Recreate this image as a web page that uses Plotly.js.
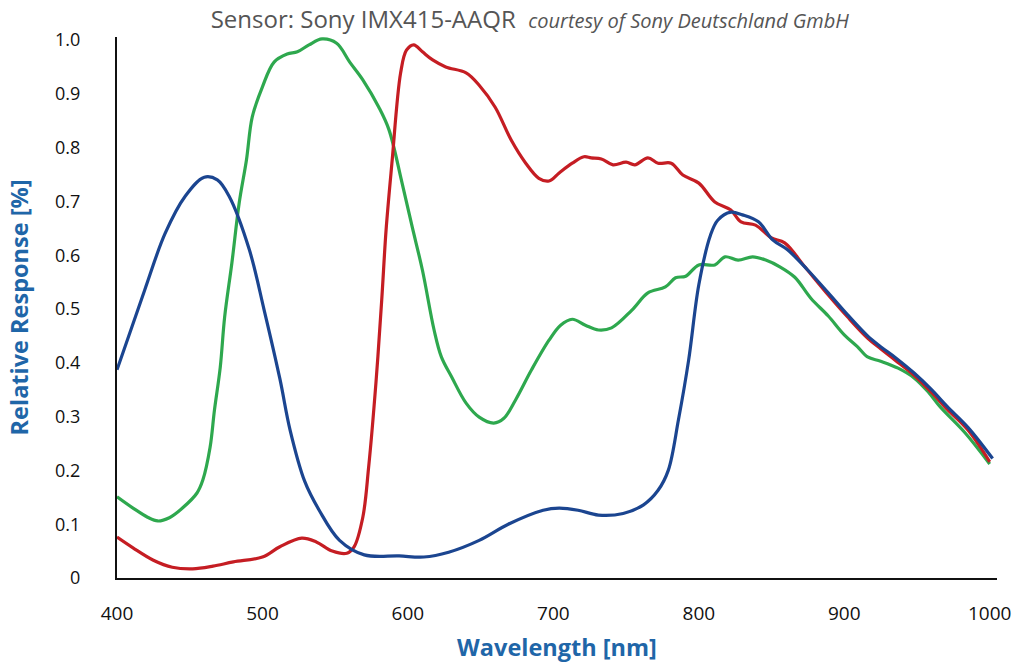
<!DOCTYPE html>
<html><head><meta charset="utf-8">
<script src="https://cdn.plot.ly/plotly-3.0.1.min.js"></script>
<style>html,body{margin:0;padding:0;background:#fff}#chart{width:1013px;height:670px}</style>
</head><body><div id="chart"></div>
<script>
// Wavelength (nm) and relative response values
const blueNm  = [400,419,433,447,460,469,477,491,501,512,519,529,539,553,570,594,611,628,649,669,693,704,717,731,748,762,772,779,786,793,800,808,813,822,830,841,851,861,875,889,902,916,925,935,948,960,971,985,1002];
const blueVal = [0.387,0.535,0.64,0.71,0.745,0.74,0.71,0.61,0.50,0.37,0.275,0.18,0.126,0.07,0.043,0.041,0.039,0.048,0.07,0.10,0.126,0.13,0.126,0.117,0.12,0.136,0.163,0.2,0.294,0.405,0.545,0.637,0.665,0.68,0.675,0.662,0.628,0.61,0.572,0.53,0.49,0.45,0.43,0.41,0.381,0.35,0.318,0.28,0.222];

const redNm  = [400,411,425,438,452,466,480,500,512,527,537,548,558,563,569,573,578,582,585,589,595,599,604,610,617,626,640,649,660,671,681,690,697,704,713,721,726,733,741,750,756,765,772,781,789,800,811,822,829,839,850,859,873,889,902,916,925,935,948,960,971,985,1000];
const redVal = [0.076,0.056,0.033,0.020,0.017,0.022,0.030,0.039,0.058,0.074,0.067,0.050,0.046,0.058,0.113,0.206,0.362,0.517,0.647,0.771,0.939,0.981,0.991,0.978,0.963,0.950,0.939,0.916,0.875,0.814,0.771,0.743,0.738,0.753,0.771,0.783,0.781,0.779,0.768,0.773,0.768,0.781,0.771,0.771,0.749,0.734,0.699,0.684,0.662,0.656,0.632,0.623,0.578,0.526,0.486,0.446,0.426,0.405,0.377,0.345,0.313,0.275,0.216];

const greenNm  = [400,411,421,428,436,445,455,459,464,467,471,474,479,484,489,493,500,508,517,524,532,541,551,560,569,580,587,596,603,610,618,623,630,640,649,659,666,674,685,697,705,713,722,731,740,754,765,777,784,791,800,811,818,827,837,846,856,866,877,889,900,909,916,925,937,948,958,966,983,1000];
const greenVal = [0.151,0.130,0.113,0.106,0.112,0.130,0.158,0.182,0.243,0.312,0.392,0.485,0.586,0.697,0.777,0.857,0.913,0.959,0.974,0.978,0.991,1.002,0.994,0.959,0.926,0.875,0.833,0.734,0.652,0.572,0.461,0.411,0.374,0.325,0.299,0.288,0.297,0.331,0.387,0.442,0.470,0.481,0.470,0.461,0.465,0.498,0.530,0.541,0.558,0.561,0.582,0.582,0.597,0.591,0.597,0.591,0.578,0.559,0.520,0.487,0.452,0.43,0.411,0.403,0.390,0.372,0.345,0.318,0.270,0.212];

const yTickVals = [0,0.1,0.2,0.3,0.4,0.5,0.6,0.7,0.8,0.9,1.0];
const yTickText = ["0","0.1","0.2","0.3","0.4","0.5","0.6","0.7","0.8","0.9","1.0"];
const xTickVals = [400,500,600,700,800,900,1000];

const FONT = '"Open Sans", "DejaVu Sans", sans-serif';
function tr(x, y, c) {
  return {x: x, y: y, type: 'scatter', mode: 'lines',
    line: {color: c, width: 3.2, shape: 'spline', smoothing: 1},
    hoverinfo: 'skip', showlegend: false};
}
const data = [
  tr(greenNm, greenVal, '#2ea84e'),
  tr(redNm, redVal, '#c51d23'),
  tr(blueNm, blueVal, '#1b4590')
];
const layout = {
  width: 1013, height: 670,
  margin: {l: 117, r: 16, t: 37, b: 92},
  paper_bgcolor: '#fff', plot_bgcolor: '#fff',
  font: {family: FONT, color: '#111', size: 17},
  title: {
    text: 'Sensor: Sony IMX415-AAQR  <i><span style="font-size:20px">courtesy of Sony Deutschland GmbH</span></i>',
    font: {family: FONT, size: 24, color: '#555'},
    x: 0.523, xanchor: 'center', y: 0.971, yanchor: 'middle'
  },
  xaxis: {
    range: [400, 1005], tickvals: xTickVals, ticks: '', showgrid: false, zeroline: false,
    showline: true, linecolor: '#111', linewidth: 2, ticklabelstandoff: 17,
    ticklabeloverflow: 'allow',
    tickfont: {family: FONT, size: 19, color: '#111'},
    title: {text: '<b>Wavelength [nm]</b>', standoff: 15, font: {family: FONT, size: 23.5, color: '#1f66a8'}}
  },
  yaxis: {
    range: [0, 1.0056], tickvals: yTickVals, ticktext: yTickText, ticks: '', showgrid: false, zeroline: false,
    showline: true, linecolor: '#111', linewidth: 2, ticklabelstandoff: 31,
    tickfont: {family: FONT, size: 18, color: '#111'},
    title: {text: '<b>Relative Response [%]</b>', standoff: 20, font: {family: FONT, size: 23.5, color: '#1f66a8'}}
  }
};
Plotly.newPlot('chart', data, layout, {displayModeBar: false, staticPlot: true});
</script>
</body></html>
